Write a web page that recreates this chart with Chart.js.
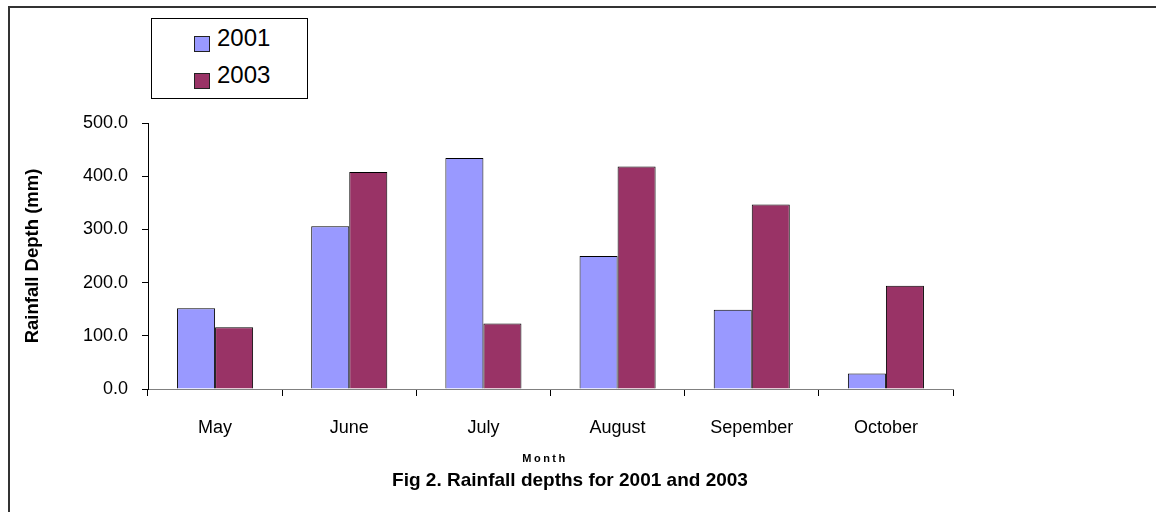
<!DOCTYPE html>
<html>
<head>
<meta charset="utf-8">
<script src="https://cdn.jsdelivr.net/npm/chart.js@4/dist/chart.umd.min.js"></script>
<style>
    html, body { margin: 0; padding: 0; background: #fff; }
    .wrap { position: relative; width: 1156px; height: 512px; overflow: hidden; font-family: "Liberation Sans", Arial, sans-serif; }
    .frame { position: absolute; left: 8px; top: 6px; width: 1200px; height: 600px; border-top: 2px solid #333; border-left: 2px solid #333; pointer-events: none; }
    .legend { position: absolute; left: 151px; top: 18px; width: 155px; height: 79px; border: 1px solid #000; background: #fff; }
    .legend__row { position: absolute; left: 42px; height: 37px; line-height: 37px; font-size: 24px; color: #000; white-space: nowrap; }
    .legend__box { display: inline-block; width: 14px; height: 14px; border: 1px solid #222; vertical-align: middle; margin-right: 7px; position: relative; top: 4px; }
</style>
</head>
<body>
<div class="wrap">
    <canvas id="myChart" width="1156" height="512"></canvas>
    <div class="frame"></div>
    <div class="legend" id="legend"></div>
</div>
<script>
const months = ['May', 'June', 'July', 'August', 'Sepember', 'October'];
const rain2001 = [152, 306, 434, 250, 149, 29];
const rain2003 = [116, 408, 123, 418, 347, 194];
const seriesNames = ['2001', '2003'];
const seriesColors = ['#9999FF', '#993366'];

const fontFamily = '"Liberation Sans", Arial, sans-serif';

// title + x-axis title drawn under the axis
const captions = {
    id: 'captions',
    afterDraw(chart) {
        const c = chart.ctx;
        c.save();
        c.fillStyle = '#000';
        c.textAlign = 'center';
        c.textBaseline = 'middle';
        c.font = 'bold 11px ' + fontFamily;
        c.letterSpacing = '2.5px';
        c.fillText('Month', 545, 459);
        c.letterSpacing = '0px';
        c.font = 'bold 19px ' + fontFamily;
        c.fillText('Fig 2. Rainfall depths for 2001 and 2003', 570, 481);
        c.restore();
    }
};

const ctx = document.getElementById('myChart');

const chart = new Chart(ctx, {
    type: 'bar',
    data: {
        labels: months,
        datasets: [
            {
                label: seriesNames[0],
                data: rain2001,
                backgroundColor: seriesColors[0],
                borderColor: '#000',
                borderWidth: 1,
                categoryPercentage: 0.567,
                barPercentage: 1.0
            },
            {
                label: seriesNames[1],
                data: rain2003,
                backgroundColor: seriesColors[1],
                borderColor: '#000',
                borderWidth: 1,
                categoryPercentage: 0.567,
                barPercentage: 1.0
            }
        ]
    },
    options: {
        responsive: false,
        animation: false,
        layout: {
            padding: { left: 8, right: 203, top: 123, bottom: 0 }
        },
        scales: {
            x: {
                afterFit(scale) { scale.height = 123; },
                border: { display: true, color: '#808080', width: 1 },
                grid: {
                    display: true,
                    offset: true,
                    drawOnChartArea: false,
                    drawTicks: true,
                    tickLength: 7,
                    color: '#000'
                },
                ticks: {
                    color: '#000',
                    padding: 21,
                    font: { family: fontFamily, size: 18 }
                }
            },
            y: {
                min: 0,
                max: 500,
                afterFit(scale) { scale.width = 140; },
                border: { display: true, color: '#000', width: 1 },
                grid: {
                    display: true,
                    drawOnChartArea: false,
                    drawTicks: true,
                    tickLength: 6,
                    color: '#000'
                },
                ticks: {
                    stepSize: 100,
                    color: '#000',
                    padding: 14,
                    font: { family: fontFamily, size: 18 },
                    callback: function (value) {
                        return value.toFixed(1);
                    }
                },
                title: {
                    display: true,
                    text: 'Rainfall Depth (mm)',
                    color: '#000',
                    padding: { top: 14, bottom: 0 },
                    font: { family: fontFamily, size: 18.5, weight: 'bold' }
                }
            }
        },
        plugins: {
            legend: { display: false },
            tooltip: { enabled: false }
        }
    },
    plugins: [captions]
});

// legend box with the series names
let legendBox = document.getElementById('legend');
for (let i = 0; i < chart.data.datasets.length; i++) {
    let ds = chart.data.datasets[i];
    let row = document.createElement('div');
    row.className = 'legend__row';
    row.style.top = (0 + 37 * i) + 'px';
    let sw = document.createElement('span');
    sw.className = 'legend__box';
    sw.style.background = ds.backgroundColor;
    row.appendChild(sw);
    row.appendChild(document.createTextNode(ds.label));
    legendBox.appendChild(row);
}
</script>
</body>
</html>
